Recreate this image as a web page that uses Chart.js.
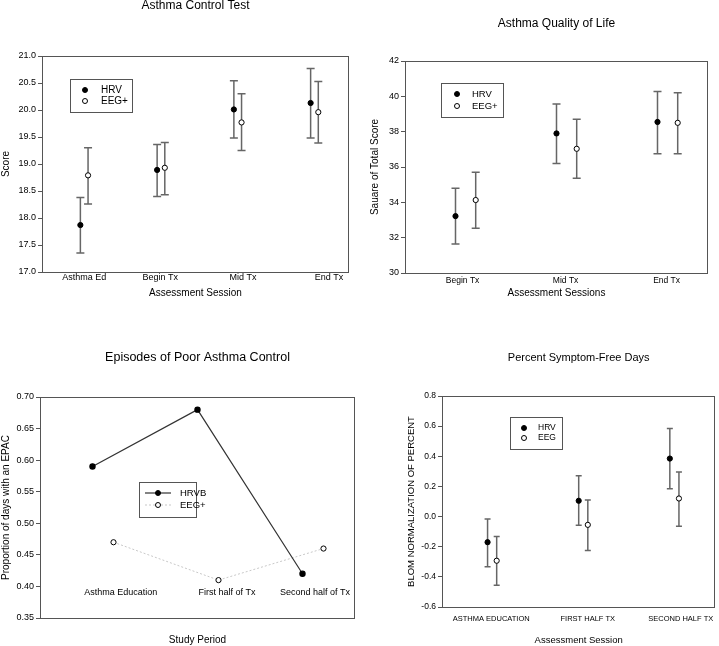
<!DOCTYPE html>
<html>
<head>
<meta charset="utf-8">
<script src="https://cdn.jsdelivr.net/npm/chart.js@4.4.0/dist/chart.umd.min.js"></script>
<style>
body { margin: 0; background: #fff; width: 719px; height: 646px; position: relative; overflow: hidden; }
.panel { position: absolute; }
</style>
</head>
<body>
<div class="panel" style="left:0;top:0;width:360px;height:310px"><canvas id="chart1"></canvas></div>
<div class="panel" style="left:360px;top:0;width:359px;height:310px"><canvas id="chart2"></canvas></div>
<div class="panel" style="left:0;top:320px;width:360px;height:326px"><canvas id="chart3"></canvas></div>
<div class="panel" style="left:360px;top:320px;width:359px;height:326px"><canvas id="chart4"></canvas></div>
<script>
'use strict';

// asthma control test
const act_labels = ['Asthma Ed', 'Begin Tx', 'Mid Tx', 'End Tx'];
const act_hrv = [17.87, 18.89, 20.01, 20.13];
const act_hrv_lo = [17.35, 18.40, 19.48, 19.48];
const act_hrv_hi = [18.38, 19.36, 20.54, 20.77];
const act_eeg = [18.79, 18.93, 19.77, 19.96];
const act_eeg_lo = [18.26, 18.43, 19.25, 19.39];
const act_eeg_hi = [19.30, 19.40, 20.30, 20.53];

// asthma quality of life
const aqol_labels = ['Begin Tx', 'Mid Tx', 'End Tx'];
const aqol_hrv = [33.22, 37.90, 38.55];
const aqol_hrv_lo = [31.64, 36.20, 36.75];
const aqol_hrv_hi = [34.80, 39.56, 40.28];
const aqol_eeg = [34.13, 37.03, 38.50];
const aqol_eeg_lo = [32.53, 35.36, 36.75];
const aqol_eeg_hi = [35.70, 38.70, 40.20];

// episodes of poor asthma control
const epac_labels = ['Asthma Education', 'First half of Tx', 'Second half of Tx'];
const epac_hrvb = [0.59, 0.68, 0.42];
const epac_eeg = [0.47, 0.41, 0.46];

// percent symptom-free days
const sfd_labels = ['ASTHMA EDUCATION', 'FIRST HALF TX', 'SECOND HALF TX'];
const sfd_hrv = [-0.17, 0.105, 0.385];
const sfd_hrv_lo = [-0.333, -0.058, 0.185];
const sfd_hrv_hi = [-0.016, 0.271, 0.585];
const sfd_eeg = [-0.293, -0.055, 0.12];
const sfd_eeg_lo = [-0.456, -0.225, -0.065];
const sfd_eeg_hi = [-0.133, 0.11, 0.295];

const FONT = '"Liberation Sans", Arial, sans-serif';
Chart.defaults.font.family = FONT;
Chart.defaults.color = '#000';
Chart.defaults.animation = false;

const pts = (vals, off) => vals.map((v, i) => ({x: i + 1 + off, y: v}));

// box round the plot area
const frame = {
	id: 'frame',
	beforeDatasetsDraw(chart) {
		const {ctx, chartArea: a} = chart;
		ctx.save();
		ctx.strokeStyle = '#555';
		ctx.lineWidth = 1;
		ctx.strokeRect(Math.round(a.left) + 0.5, Math.round(a.top) + 0.5, Math.round(a.right - a.left) - 1, Math.round(a.bottom - a.top));
		ctx.restore();
	}
};

const errorBars = {
	id: 'errorBars',
	beforeDatasetsDraw(chart, args, opts) {
		const {ctx, scales: {x, y}} = chart;
		const cap = opts.cap || 4;
		ctx.save();
		ctx.strokeStyle = '#666';
		ctx.lineWidth = 1.5;
		chart.data.datasets.forEach(ds => {
			if (!ds.low) return;
			ds.data.forEach((p, i) => {
				const px = x.getPixelForValue(p.x);
				const lo = y.getPixelForValue(ds.low[i]);
				const hi = y.getPixelForValue(ds.high[i]);
				ctx.beginPath();
				ctx.moveTo(px, lo); ctx.lineTo(px, hi);
				ctx.moveTo(px - cap, lo); ctx.lineTo(px + cap, lo);
				ctx.moveTo(px - cap, hi); ctx.lineTo(px + cap, hi);
				ctx.stroke();
			});
		});
		ctx.restore();
	}
};

// category names written inside the plot (episodes chart)
const innerLabels = {
	id: 'innerLabels',
	afterDatasetsDraw(chart, args, o) {
		if (!o || !o.labels) return;
		const {ctx, chartArea: a, scales: {x}} = chart;
		ctx.save();
		ctx.font = o.size + 'px ' + FONT;
		ctx.fillStyle = '#000';
		ctx.textAlign = 'center';
		ctx.textBaseline = 'middle';
		o.labels.forEach((t, i) => {
			ctx.fillText(t, x.getPixelForValue(o.at[i]), a.bottom - o.lift);
		});
		ctx.restore();
	}
};

const boxLegend = {
	id: 'boxLegend',
	afterDatasetsDraw(chart, args, o) {
		if (!o || o.width === undefined) return;
		const {ctx, chartArea: a} = chart;
		const bx = Math.round(a.left + o.left), by = Math.round(a.top + o.top);
		ctx.save();
		ctx.strokeStyle = '#555';
		ctx.lineWidth = 1;
		ctx.strokeRect(bx + 0.5, by + 0.5, o.width, o.height);
		ctx.font = o.size + 'px ' + FONT;
		ctx.textBaseline = 'middle';
		chart.data.datasets.forEach((ds, i) => {
			const yy = by + o.rows[i];
			if (o.line) {
				ctx.save();
				ctx.strokeStyle = ds.borderColor;
				ctx.lineWidth = ds.borderWidth;
				ctx.setLineDash(ds.borderDash || []);
				ctx.beginPath();
				ctx.moveTo(bx + o.line[0], yy); ctx.lineTo(bx + o.line[1], yy);
				ctx.stroke();
				ctx.restore();
			}
			ctx.beginPath();
			ctx.arc(bx + o.markX, yy, o.r, 0, Math.PI * 2);
			ctx.fillStyle = ds.pointBackgroundColor;
			ctx.fill();
			ctx.strokeStyle = ds.pointBorderColor;
			ctx.lineWidth = 1;
			ctx.stroke();
			ctx.fillStyle = '#000';
			ctx.fillText(ds.label, bx + o.textX, yy);
		});
		ctx.restore();
	}
};

function yAxis(min, max, step, dec, text, width, tpad, size, tsize) {
	return {
		min: min, max: max,
		ticks: { stepSize: step, callback: v => Number(v).toFixed(dec), font: {size: size}, padding: 2, color: '#000' },
		grid: { display: true, drawOnChartArea: false, tickLength: 4, color: '#555' },
		border: { display: false },
		title: { display: true, text: text, font: {size: tsize}, padding: {top: tpad, bottom: 0}, color: '#000' },
		afterFit: s => { s.width = width; }
	};
}

function xAxis(min, max, at, labels, text, height, size, pad, tpad, tsize) {
	return {
		type: 'linear', min: min, max: max,
		afterBuildTicks: s => { s.ticks = at.map(v => ({value: v})); },
		ticks: { display: labels !== null, callback: (v, i) => (labels ? labels[i] : ''), font: {size: size}, padding: pad, maxRotation: 0, autoSkip: false, color: '#000' },
		grid: { display: false },
		border: { display: false },
		title: { display: true, text: text, font: {size: tsize}, padding: {top: 0, bottom: tpad}, color: '#000' },
		afterFit: s => { s.height = height; }
	};
}

const filled = { pointBackgroundColor: '#000', pointBorderColor: '#000', pointRadius: 2.6, pointHoverRadius: 2.6, borderColor: '#000', borderWidth: 1 };
const hollow = { pointBackgroundColor: '#fff', pointBorderColor: '#000', pointRadius: 2.6, pointHoverRadius: 2.6, borderColor: '#000', borderWidth: 1 };

function title(text, size, top, bottom) {
	return { display: true, text: text, fullSize: false, font: {size: size, weight: 'normal'}, color: '#000', padding: {top: top, bottom: bottom} };
}

// chart 1
new Chart(document.querySelector('#chart1'), {
	type: 'scatter',
	data: {
		datasets: [
			Object.assign({ label: 'HRV', data: pts(act_hrv, 0), low: act_hrv_lo, high: act_hrv_hi }, filled),
			Object.assign({ label: 'EEG+', data: pts(act_eeg, 0.1), low: act_eeg_lo, high: act_eeg_hi }, hollow)
		]
	},
	options: {
		responsive: true,
		maintainAspectRatio: false,
		layout: { padding: {left: 0, right: 11, top: 0, bottom: 0} },
		plugins: {
			legend: { display: false },
			tooltip: { enabled: false },
			title: title('Asthma Control Test', 12, -2, 43.6),
			errorBars: { cap: 4 },
			boxLegend: { left: 28, top: 23, width: 62, height: 33, markX: 15, textX: 31, rows: [11, 22], r: 2.5, size: 10 }
		},
		scales: {
			x: xAxis(0.5, 4.5, [1.05, 2.04, 3.12, 4.24], act_labels, 'Assessment Session', 38, 9, -8, 11, 10),
			y: yAxis(17, 21, 0.5, 1, 'Score', 42, 0, 9, 10)
		}
	},
	plugins: [frame, errorBars, boxLegend]
});

// chart 2
new Chart(document.querySelector('#chart2'), {
	type: 'scatter',
	data: {
		datasets: [
			Object.assign({ label: 'HRV', data: pts(aqol_hrv, 0), low: aqol_hrv_lo, high: aqol_hrv_hi }, filled),
			Object.assign({ label: 'EEG+', data: pts(aqol_eeg, 0.2), low: aqol_eeg_lo, high: aqol_eeg_hi }, hollow)
		]
	},
	options: {
		responsive: true,
		maintainAspectRatio: false,
		layout: { padding: {left: 0, right: 11, top: 0, bottom: 0} },
		plugins: {
			legend: { display: false },
			tooltip: { enabled: false },
			title: title('Asthma Quality of Life', 12, 16.8, 29.8),
			errorBars: { cap: 4 },
			boxLegend: { left: 36, top: 22, width: 62, height: 34, markX: 16, textX: 31, rows: [11, 23], r: 2.5, size: 9.5 }
		},
		scales: {
			x: xAxis(0.5, 3.5, [1.07, 2.09, 3.09], aqol_labels, 'Assessment Sessions', 37, 8.5, -5, 11, 10),
			y: yAxis(30, 42, 2, 0, 'Sauare of Total Score', 45, 9, 9, 10)
		}
	},
	plugins: [frame, errorBars, boxLegend]
});

// chart 3
new Chart(document.querySelector('#chart3'), {
	type: 'scatter',
	data: {
		datasets: [
			Object.assign({ label: 'HRVB', data: pts(epac_hrvb, 0), showLine: true }, filled, { borderColor: '#333', borderWidth: 1.2 }),
			Object.assign({ label: 'EEG+', data: pts(epac_eeg, 0.2), showLine: true }, hollow, { borderColor: '#c8c8c8', borderWidth: 1, borderDash: [2, 2] })
		]
	},
	options: {
		responsive: true,
		maintainAspectRatio: false,
		layout: { padding: {left: 0, right: 5, top: 0, bottom: 0} },
		plugins: {
			legend: { display: false },
			tooltip: { enabled: false },
			title: title('Episodes of Poor Asthma Control', 12.5, 30.5, 31.5),
			innerLabels: { labels: epac_labels, at: [1.27, 2.28, 3.12], lift: 25, size: 9 },
			boxLegend: { left: 99, top: 85, width: 57, height: 35, line: [6, 32], markX: 19, textX: 41, rows: [11, 23], r: 2.5, size: 9.5 }
		},
		scales: {
			x: xAxis(0.5, 3.5, [1, 2, 3], null, 'Study Period', 28, 9, 0, 0, 10),
			y: yAxis(0.35, 0.70, 0.05, 2, 'Proportion of days with an EPAC', 40, 0, 9, 10)
		}
	},
	plugins: [frame, innerLabels, boxLegend]
});

// chart 4
new Chart(document.querySelector('#chart4'), {
	type: 'scatter',
	data: {
		datasets: [
			Object.assign({ label: 'HRV', data: pts(sfd_hrv, 0), low: sfd_hrv_lo, high: sfd_hrv_hi }, filled),
			Object.assign({ label: 'EEG', data: pts(sfd_eeg, 0.1), low: sfd_eeg_lo, high: sfd_eeg_hi }, hollow)
		]
	},
	options: {
		responsive: true,
		maintainAspectRatio: false,
		layout: { padding: {left: 0, right: 1, top: 0, bottom: 0} },
		plugins: {
			legend: { display: false },
			tooltip: { enabled: false },
			title: title('Percent Symptom-Free Days', 11, 31.4, 31.4),
			errorBars: { cap: 3 },
			boxLegend: { left: 68, top: 21, width: 52, height: 32, markX: 14, textX: 28, rows: [11, 21], r: 2.5, size: 8.5 }
		},
		scales: {
			x: xAxis(0.5, 3.5, [1.04, 2.10, 3.12], sfd_labels, 'Assessment Session', 39, 7.5, -1, 0, 9.5),
			y: yAxis(-0.6, 0.8, 0.2, 1, 'BLOM NORMALIZATION OF PERCENT', 82, 46, 8.5, 9.5)
		}
	},
	plugins: [frame, errorBars, boxLegend]
});
</script>
</body>
</html>
